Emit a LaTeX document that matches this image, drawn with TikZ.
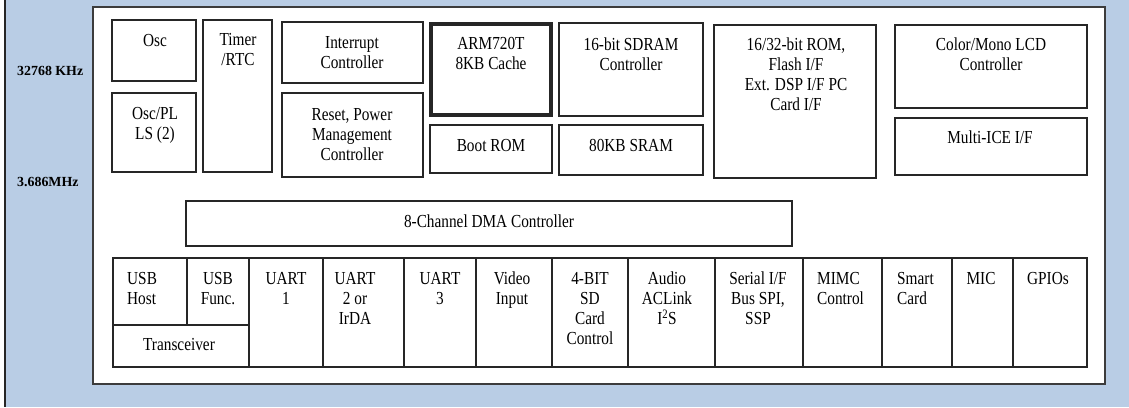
\documentclass[tikz,border=0pt]{standalone}
\usepackage{fontspec}
\setmainfont{Liberation Serif}
\usepackage{graphicx}
\definecolor{bgblue}{RGB}{185,205,229}
\definecolor{edge}{RGB}{38,38,38}
\newcommand{\tx}[1]{\scalebox{1}[1.2]{\begin{tabular}[t]{@{}c@{}}#1\end{tabular}}}
\newcommand{\txl}[1]{\scalebox{1}[1.2]{\begin{tabular}[t]{@{}l@{}}#1\end{tabular}}}
\newcommand{\bx}[6][]{\node[blockbox,#1,minimum width={(#4)-(#2)},minimum height={(#5)-(#3)}] (#6) at (#2,#3) {};}
\begin{document}
\begin{tikzpicture}[x=1pt,y=-1pt,
  blockbox/.style={draw=edge,line width=1.3pt,anchor=north west,inner sep=0pt,outer sep=0pt,fill=white},
  txt/.style={inner sep=0pt,anchor=base,font=\fontsize{15.3}{16.7}\selectfont},
  txtl/.style={txt,anchor=base west},
  freq/.style={inner sep=0pt,anchor=base west,font=\fontsize{13.9}{16}\selectfont\bfseries}]
\useasboundingbox (0,0) rectangle (1129,407);
\fill[bgblue] (5,0) rectangle (1129,407);
\draw[edge,line width=1.5pt] (5,0) -- (5,407);
\node[freq] (f1) at (17,75) {32768 KHz};
\node[freq] (f2) at (17,186.5) {3.686MHz};
% chip
\bx[line width=1.8pt,draw=edge!90]{93}{7}{1105}{384}{chip}
% top section
\bx{112}{20}{196}{81}{osc}
\node[txt] (tosc) at (155,46) {\tx{Osc}};
\bx{112}{93}{196}{172}{pll}
\node[txt] (tpll) at (155,119.5) {\tx{Osc/PL\\LS (2)}};
\bx{203}{20}{272}{172}{timer}
\node[txt] (ttimer) at (238,45.5) {\tx{Timer\\/RTC}};
\bx{282}{22}{423}{83}{intc}
\node[txt] (tintc) at (352,48.5) {\tx{Interrupt\\Controller}};
\bx{282}{93}{423}{177}{reset}
\node[txt] (treset) at (352,120) {\tx{Reset, Power\\Management\\Controller}};
\bx[line width=4pt]{431}{24}{551}{115}{arm}
\node[txt] (tarm) at (491,49.5) {\tx{ARM720T\\8KB Cache}};
\bx{430}{125}{552}{173}{boot}
\node[txt] (tboot) at (491,151) {\tx{Boot ROM}};
\bx{559}{23}{703}{116}{sdram}
\node[txt] (tsdram) at (631,50) {\tx{16-bit SDRAM\\Controller}};
\bx{559}{125}{703}{175}{sram}
\node[txt] (tsram) at (631,151) {\tx{80KB SRAM}};
\bx{714}{25}{876}{178}{rom}
\node[txt] (trom) at (796,50) {\tx{16/32-bit ROM,\\Flash I/F\\Ext. DSP I/F PC\\Card I/F}};
\bx{895}{25}{1087}{108}{lcd}
\node[txt] (tlcd) at (991,50) {\tx{Color/Mono LCD\\Controller}};
\bx{895}{118}{1087}{175}{ice}
\node[txt] (tice) at (990,143.5) {\tx{Multi-ICE I/F}};
% DMA
\bx{186}{201}{792}{246}{dma}
\node[txt] (tdma) at (489,227) {\tx{8-Channel DMA Controller}};
% bottom row
\bx{113}{258}{187}{325}{usbh}
\node[txtl] (tusbh) at (127,284) {\txl{USB\\Host}};
\bx{187}{258}{249}{325}{usbf}
\node[txt] (tusbf) at (218,284) {\tx{USB\\Func.}};
\bx{113}{325}{249}{367}{trans}
\node[txt] (ttrans) at (179,350) {\tx{Transceiver}};
\bx{249}{258}{323}{367}{uarta}
\node[txt] (tuarta) at (286,284) {\tx{UART\\1}};
\bx{323}{258}{404}{367}{uartb}
\node[txt] (tuartb) at (355,284) {\tx{UART\\2 or\\IrDA}};
\bx{404}{258}{476}{367}{uartc}
\node[txt] (tuartc) at (440,284) {\tx{UART\\3}};
\bx{476}{258}{552}{367}{video}
\node[txt] (tvideo) at (512,284) {\tx{Video\\Input}};
\bx{552}{258}{628}{367}{sd}
\node[txt] (tsd) at (590,284) {\tx{4-BIT\\SD\\Card\\Control}};
\bx{628}{258}{715}{367}{audio}
\node[txt] (taudio) at (667,284) {\tx{Audio\\ACLink\\I\textsuperscript{2}S}};
\bx{715}{258}{803}{367}{serial}
\node[txt] (tserial) at (758,284) {\tx{Serial I/F\\Bus SPI,\\SSP}};
\bx{803}{258}{882}{367}{mimc}
\node[txtl] (tmimc) at (817,284) {\txl{MIMC\\Control}};
\bx{882}{258}{952}{367}{smart}
\node[txtl] (tsmart) at (897,284) {\txl{Smart\\Card}};
\bx{952}{258}{1013}{367}{mic}
\node[txt] (tmic) at (981,284) {\tx{MIC}};
\bx{1013}{258}{1087}{367}{gpio}
\node[txt] (tgpio) at (1048,284) {\tx{GPIOs}};
\end{tikzpicture}
\end{document}
